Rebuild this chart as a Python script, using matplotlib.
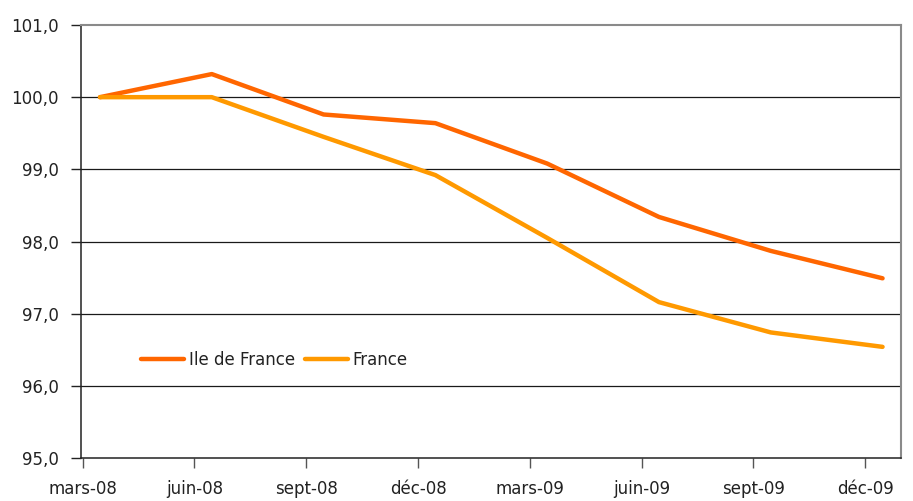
import matplotlib
matplotlib.use("Agg")
import matplotlib.pyplot as plt
import numpy as np

categories = ["mars-08", "juin-08", "sept-08", "déc-08", "mars-09", "juin-09", "sept-09", "déc-09"]
ile_de_france = [100.0, 100.32, 99.76, 99.64, 99.08, 98.34, 97.87, 97.49]
france = [100.0, 100.0, 99.45, 98.92, 98.05, 97.16, 96.74, 96.54]
y_ticks = [95.0, 96.0, 97.0, 98.0, 99.0, 100.0, 101.0]

plt.rcParams['font.family'] = ['DejaVu Sans']

fig = plt.figure(figsize=(9.13, 5.01), dpi=100)
ax = fig.add_axes([81/913, 1-458/501, 820/913, 433/501])

x = np.arange(len(categories))
ax.plot(x, ile_de_france, color="#FF6600", lw=3.2, solid_capstyle="round", label="Ile de France", zorder=3)
ax.plot(x, france, color="#FF9900", lw=3.2, solid_capstyle="round", label="France", zorder=3)

ax.set_ylim(95, 101)
ax.set_xlim(-0.17, 7.165)
ax.set_yticks(y_ticks)
ax.set_yticklabels([f"{v:.1f}".replace(".", ",") for v in y_ticks], fontsize=12, color="#222222")
ax.set_xticks(x - 0.155)
ax.set_xticklabels(categories, fontsize=12, color="#222222")
ax.tick_params(axis="y", length=7, width=1, pad=9, color="#222222")
ax.tick_params(axis="x", length=7, width=1, pad=9, color="#555555")

for v in y_ticks[1:-1]:
    ax.axhline(v, color="#1a1a1a", lw=0.9, zorder=1)

for s in ["left", "bottom"]:
    ax.spines[s].set_color("#222222")
    ax.spines[s].set_linewidth(1.1)
for s in ["top", "right"]:
    ax.spines[s].set_color("#8a8a8a")
    ax.spines[s].set_linewidth(1.5)

leg = ax.legend(loc="center left", bbox_to_anchor=(0.055, 0.226), frameon=False, ncol=2,
                fontsize=12, handlelength=2.6, handletextpad=0.25, columnspacing=0.6)
for t in leg.get_texts():
    t.set_color("#222222")

fig.savefig("out.png", dpi=100)
